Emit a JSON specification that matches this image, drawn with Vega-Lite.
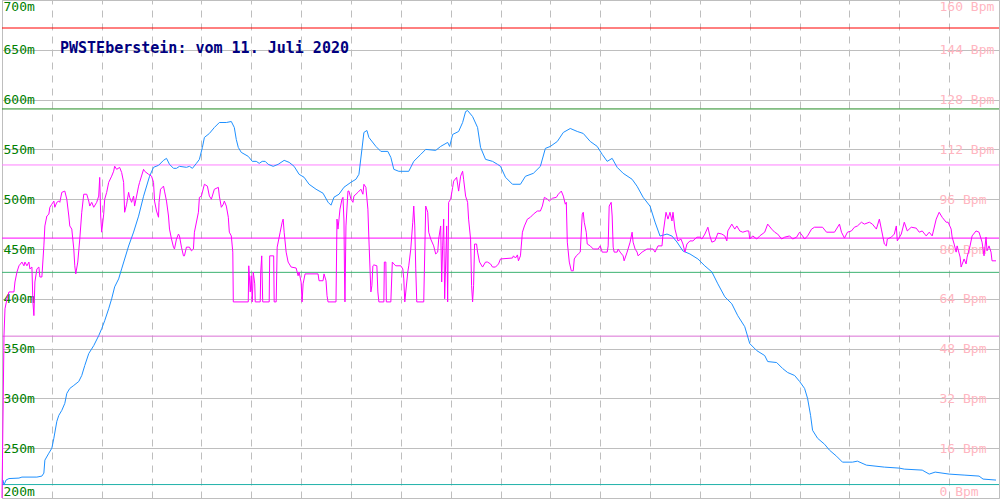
{
  "$schema": "https://vega.github.io/schema/vega-lite/v6.json",
  "width": 1000,
  "height": 500,
  "autosize": {"type": "fit", "contains": "padding"},
  "padding": 0,
  "background": "white",
  "view": {"stroke": "#bebebe", "strokeWidth": 1},
  "config": {"font": "DejaVu Sans Mono", "axis": {"minExtent": 0, "maxExtent": 0}},
  "title": {
    "text": "PWSTEberstein: vom 11. Juli 2020",
    "anchor": "start",
    "frame": "group",
    "orient": "top",
    "offset": -68,
    "dx": 58,
    "baseline": "alphabetic",
    "font": "DejaVu Sans Mono",
    "fontSize": 15,
    "fontWeight": "bold",
    "color": "#000080"
  },
  "datasets": {
    "zones": [
      {"zone": "Max", "bpm": 151},
      {"zone": "Z5", "bpm": 125},
      {"zone": "Z4", "bpm": 107},
      {"zone": "Z3", "bpm": 83.5},
      {"zone": "Z2", "bpm": 72.5},
      {"zone": "Z1", "bpm": 52}
    ],
    "base": [{"m": 213.5}],
    "alt": [
      {"t":1,"m":218},{"t":2,"m":213},{"t":4,"m":218},{"t":7,"m":219.5},{"t":17,"m":220},{"t":20,"m":221},{"t":35,"m":221},{"t":40,"m":222},{"t":42,"m":225},{"t":43,"m":238},{"t":47,"m":245},{"t":50,"m":250},{"t":52,"m":260},{"t":55,"m":277},{"t":57,"m":283},{"t":60,"m":288},{"t":63,"m":295},{"t":65,"m":305},{"t":68,"m":310},{"t":72,"m":313},{"t":77,"m":317},{"t":80,"m":323},{"t":83,"m":333},{"t":87,"m":345},{"t":92,"m":353},{"t":97,"m":363},{"t":100,"m":370},{"t":103,"m":378},{"t":107,"m":390},{"t":110,"m":400},{"t":113,"m":412},{"t":117,"m":420},{"t":120,"m":430},{"t":127,"m":453},{"t":132,"m":467},{"t":137,"m":483},{"t":142,"m":503},{"t":148,"m":523},{"t":152,"m":532},{"t":157,"m":534},{"t":162,"m":539},{"t":165,"m":541},{"t":168,"m":535},{"t":172,"m":531},{"t":175,"m":531},{"t":178,"m":533},{"t":185,"m":532},{"t":188,"m":533},{"t":191,"m":531},{"t":195,"m":536},{"t":198,"m":540},{"t":201,"m":552},{"t":203,"m":562},{"t":208,"m":566},{"t":213,"m":572},{"t":218,"m":577},{"t":225,"m":577},{"t":230,"m":578},{"t":233,"m":572},{"t":235,"m":560},{"t":237,"m":552},{"t":240,"m":547},{"t":247,"m":543},{"t":251,"m":538},{"t":255,"m":538},{"t":258,"m":536},{"t":261,"m":538},{"t":264,"m":538},{"t":267,"m":535},{"t":272,"m":533},{"t":277,"m":535},{"t":283,"m":539},{"t":288,"m":537},{"t":293,"m":533},{"t":298,"m":525},{"t":303,"m":522},{"t":308,"m":515},{"t":315,"m":510},{"t":322,"m":506},{"t":327,"m":497},{"t":330,"m":494},{"t":333,"m":502},{"t":338,"m":505},{"t":343,"m":512},{"t":350,"m":517},{"t":355,"m":520},{"t":358,"m":525},{"t":361,"m":550},{"t":363,"m":567},{"t":366,"m":569},{"t":368,"m":562},{"t":375,"m":553},{"t":380,"m":548},{"t":387,"m":548},{"t":390,"m":542},{"t":393,"m":530},{"t":398,"m":528},{"t":408,"m":528},{"t":413,"m":538},{"t":420,"m":545},{"t":425,"m":550},{"t":435,"m":549},{"t":440,"m":553},{"t":447,"m":557},{"t":449,"m":553},{"t":452,"m":565},{"t":458,"m":568},{"t":462,"m":577},{"t":465,"m":588},{"t":467,"m":589},{"t":472,"m":583},{"t":477,"m":572},{"t":480,"m":552},{"t":485,"m":540},{"t":492,"m":538},{"t":497,"m":535},{"t":500,"m":533},{"t":505,"m":522},{"t":512,"m":515},{"t":520,"m":515},{"t":525,"m":523},{"t":533,"m":526},{"t":540,"m":533},{"t":545,"m":551},{"t":550,"m":553},{"t":557,"m":558},{"t":563,"m":567},{"t":570,"m":571},{"t":577,"m":568},{"t":583,"m":566},{"t":590,"m":558},{"t":597,"m":553},{"t":602,"m":545},{"t":607,"m":538},{"t":612,"m":541},{"t":617,"m":532},{"t":623,"m":526},{"t":632,"m":520},{"t":637,"m":513},{"t":643,"m":502},{"t":650,"m":493},{"t":655,"m":477},{"t":660,"m":463},{"t":667,"m":465},{"t":672,"m":463},{"t":677,"m":457},{"t":683,"m":448},{"t":690,"m":445},{"t":698,"m":440},{"t":705,"m":433},{"t":712,"m":427},{"t":718,"m":415},{"t":725,"m":402},{"t":732,"m":395},{"t":738,"m":383},{"t":745,"m":372},{"t":750,"m":355},{"t":757,"m":348},{"t":765,"m":343},{"t":768,"m":337},{"t":777,"m":336},{"t":783,"m":330},{"t":788,"m":326},{"t":795,"m":323},{"t":800,"m":317},{"t":805,"m":310},{"t":808,"m":300},{"t":811,"m":283},{"t":813,"m":268},{"t":818,"m":260},{"t":825,"m":254},{"t":830,"m":248},{"t":837,"m":242},{"t":843,"m":236},{"t":853,"m":236},{"t":858,"m":237},{"t":867,"m":233},{"t":885,"m":231},{"t":900,"m":230},{"t":905,"m":229},{"t":923,"m":228},{"t":930,"m":224},{"t":936,"m":226},{"t":950,"m":224},{"t":965,"m":223},{"t":980,"m":222},{"t":984,"m":219},{"t":997,"m":218}
    ],
    "hr": [
      {"t":0,"bpm":0},{"t":0.5,"bpm":12.8},{"t":2,"bpm":52.2},{"t":3,"bpm":60.8},{"t":5,"bpm":64},{"t":7,"bpm":66.2},{"t":12,"bpm":66.2},{"t":13,"bpm":69.4},{"t":15,"bpm":72.6},{"t":17,"bpm":74.6},{"t":20,"bpm":75.8},{"t":22,"bpm":74.6},{"t":23,"bpm":75.8},{"t":25,"bpm":74.6},{"t":27,"bpm":75.8},{"t":28,"bpm":73.6},{"t":30,"bpm":74.2},{"t":31,"bpm":63},{"t":32,"bpm":58.6},{"t":33,"bpm":69.4},{"t":35,"bpm":73.6},{"t":37,"bpm":74.2},{"t":38,"bpm":71},{"t":40,"bpm":71},{"t":42,"bpm":81},{"t":43,"bpm":87.4},{"t":45,"bpm":90.6},{"t":47,"bpm":91.2},{"t":48,"bpm":93.4},{"t":50,"bpm":94.4},{"t":52,"bpm":95.4},{"t":53,"bpm":93.4},{"t":55,"bpm":95},{"t":57,"bpm":95.4},{"t":58,"bpm":95},{"t":60,"bpm":98.2},{"t":63,"bpm":98.6},{"t":65,"bpm":96},{"t":67,"bpm":90.6},{"t":68,"bpm":87.4},{"t":70,"bpm":86.4},{"t":72,"bpm":80},{"t":73,"bpm":74.6},{"t":74,"bpm":72},{"t":76,"bpm":75.8},{"t":78,"bpm":83.2},{"t":80,"bpm":91.8},{"t":82,"bpm":97.6},{"t":85,"bpm":97.6},{"t":87,"bpm":95.4},{"t":88,"bpm":93.8},{"t":90,"bpm":95},{"t":92,"bpm":93.4},{"t":95,"bpm":95},{"t":97,"bpm":97},{"t":98,"bpm":103},{"t":99,"bpm":90.6},{"t":100,"bpm":85.4},{"t":102,"bpm":91.2},{"t":103,"bpm":96},{"t":105,"bpm":98.2},{"t":107,"bpm":101.4},{"t":110,"bpm":103.4},{"t":112,"bpm":105},{"t":113,"bpm":106.6},{"t":115,"bpm":105.6},{"t":118,"bpm":106.2},{"t":120,"bpm":104.6},{"t":122,"bpm":101.4},{"t":123,"bpm":91.8},{"t":125,"bpm":94.4},{"t":127,"bpm":98.2},{"t":128,"bpm":96.6},{"t":130,"bpm":95},{"t":132,"bpm":97},{"t":133,"bpm":93.8},{"t":135,"bpm":97},{"t":137,"bpm":100.2},{"t":138,"bpm":101.4},{"t":142,"bpm":105.6},{"t":143,"bpm":105},{"t":147,"bpm":104},{"t":150,"bpm":103.4},{"t":152,"bpm":101.4},{"t":153,"bpm":95.4},{"t":155,"bpm":92.2},{"t":157,"bpm":90.2},{"t":157.5,"bpm":95},{"t":159,"bpm":99.2},{"t":162,"bpm":100.2},{"t":163,"bpm":98.6},{"t":165,"bpm":95.4},{"t":167,"bpm":90.6},{"t":168,"bpm":86.4},{"t":170,"bpm":83.2},{"t":172,"bpm":80.6},{"t":173,"bpm":80},{"t":175,"bpm":83.2},{"t":177,"bpm":84.8},{"t":178,"bpm":84.2},{"t":180,"bpm":80.6},{"t":182,"bpm":77.8},{"t":183,"bpm":77.8},{"t":185,"bpm":80.6},{"t":188,"bpm":80.6},{"t":190,"bpm":79.4},{"t":192,"bpm":80},{"t":193,"bpm":85.4},{"t":197,"bpm":91.8},{"t":198,"bpm":96.6},{"t":200,"bpm":97},{"t":203,"bpm":100.8},{"t":206,"bpm":100.2},{"t":208,"bpm":97},{"t":210,"bpm":96},{"t":213,"bpm":99.2},{"t":217,"bpm":99.8},{"t":218,"bpm":97},{"t":220,"bpm":93.4},{"t":222,"bpm":94.4},{"t":223,"bpm":95.4},{"t":225,"bpm":93.8},{"t":227,"bpm":90.2},{"t":228,"bpm":85.4},{"t":230,"bpm":84.2},{"t":231.5,"bpm":79},{"t":232,"bpm":63},{"t":247,"bpm":63},{"t":247.5,"bpm":74.6},{"t":249,"bpm":66.2},{"t":250,"bpm":71.4},{"t":251,"bpm":63},{"t":252,"bpm":72.6},{"t":253.5,"bpm":68.8},{"t":254,"bpm":63},{"t":259,"bpm":63},{"t":259.5,"bpm":72.6},{"t":260.5,"bpm":77.8},{"t":261.5,"bpm":63},{"t":268,"bpm":63},{"t":268.5,"bpm":77.8},{"t":272.5,"bpm":77.8},{"t":273,"bpm":63},{"t":275,"bpm":63},{"t":276,"bpm":80.6},{"t":279,"bpm":85.4},{"t":281,"bpm":88.6},{"t":282,"bpm":89.6},{"t":283,"bpm":85.4},{"t":285,"bpm":79},{"t":287,"bpm":75.8},{"t":290,"bpm":74.2},{"t":295,"bpm":73.9},{"t":297,"bpm":71.4},{"t":298,"bpm":72.6},{"t":300,"bpm":69.4},{"t":301,"bpm":63},{"t":302,"bpm":68.8},{"t":304,"bpm":72},{"t":317,"bpm":72},{"t":318,"bpm":69.8},{"t":322,"bpm":69.8},{"t":323,"bpm":72},{"t":325,"bpm":69.8},{"t":326,"bpm":65},{"t":327,"bpm":63},{"t":335,"bpm":63},{"t":336,"bpm":89.6},{"t":337,"bpm":86.4},{"t":338,"bpm":89.6},{"t":339,"bpm":92.8},{"t":341,"bpm":96},{"t":342,"bpm":96.6},{"t":343,"bpm":89},{"t":343.5,"bpm":72.6},{"t":344,"bpm":63},{"t":345,"bpm":87.4},{"t":347,"bpm":98.6},{"t":348,"bpm":98.6},{"t":350,"bpm":96},{"t":352,"bpm":95},{"t":353,"bpm":97},{"t":357,"bpm":98.2},{"t":360,"bpm":99.2},{"t":362,"bpm":97.6},{"t":363,"bpm":100.8},{"t":365,"bpm":99.8},{"t":367,"bpm":92.8},{"t":368,"bpm":83.2},{"t":370,"bpm":66.2},{"t":371,"bpm":68.2},{"t":372,"bpm":74.6},{"t":373,"bpm":74.9},{"t":376,"bpm":74.6},{"t":377,"bpm":66.2},{"t":378,"bpm":63},{"t":383,"bpm":63},{"t":383.5,"bpm":75.8},{"t":385,"bpm":75.8},{"t":385.5,"bpm":63},{"t":390,"bpm":63},{"t":391.5,"bpm":75.8},{"t":393,"bpm":75.2},{"t":395,"bpm":74.6},{"t":400,"bpm":74.6},{"t":402,"bpm":73.6},{"t":403,"bpm":70.4},{"t":404,"bpm":63},{"t":407,"bpm":72.6},{"t":408,"bpm":74.6},{"t":410,"bpm":80},{"t":412,"bpm":88.6},{"t":413,"bpm":93.8},{"t":414,"bpm":87.4},{"t":415,"bpm":73.6},{"t":416,"bpm":63},{"t":423,"bpm":63},{"t":425,"bpm":93.8},{"t":427,"bpm":91.8},{"t":428,"bpm":85.4},{"t":430,"bpm":83.2},{"t":433,"bpm":81},{"t":435,"bpm":78.4},{"t":437,"bpm":79},{"t":438,"bpm":83.2},{"t":440,"bpm":87.4},{"t":441,"bpm":69.4},{"t":442,"bpm":81},{"t":443,"bpm":89.6},{"t":444,"bpm":64},{"t":446,"bpm":87.4},{"t":447,"bpm":63},{"t":448,"bpm":95},{"t":450,"bpm":96},{"t":452,"bpm":99.8},{"t":453,"bpm":101.8},{"t":456,"bpm":103},{"t":458,"bpm":98.6},{"t":460,"bpm":103.4},{"t":462,"bpm":105},{"t":463,"bpm":102.4},{"t":465,"bpm":97},{"t":467,"bpm":95},{"t":468,"bpm":89.6},{"t":470,"bpm":83.2},{"t":471,"bpm":68.2},{"t":472,"bpm":63},{"t":473,"bpm":68.2},{"t":474,"bpm":81.6},{"t":476,"bpm":81.6},{"t":477,"bpm":79},{"t":479,"bpm":75.8},{"t":482,"bpm":74.2},{"t":485,"bpm":75.8},{"t":487,"bpm":75.8},{"t":490,"bpm":75.2},{"t":492,"bpm":74.2},{"t":495,"bpm":74.2},{"t":498,"bpm":75.2},{"t":500,"bpm":76.8},{"t":512,"bpm":77.1},{"t":513,"bpm":77.8},{"t":515,"bpm":77.1},{"t":517,"bpm":78.1},{"t":518,"bpm":76.2},{"t":520,"bpm":77.8},{"t":522,"bpm":85.4},{"t":524,"bpm":87.4},{"t":527,"bpm":89.6},{"t":530,"bpm":90.2},{"t":533,"bpm":91.2},{"t":537,"bpm":92.2},{"t":540,"bpm":92.2},{"t":542,"bpm":93.8},{"t":544,"bpm":96.6},{"t":547,"bpm":96},{"t":549,"bpm":95.4},{"t":552,"bpm":96.3},{"t":556,"bpm":96.6},{"t":558,"bpm":97.6},{"t":561,"bpm":98.6},{"t":563,"bpm":97},{"t":565,"bpm":94.4},{"t":566,"bpm":95},{"t":567,"bpm":82.2},{"t":569,"bpm":75.8},{"t":571,"bpm":73},{"t":573,"bpm":73},{"t":574,"bpm":76.8},{"t":576,"bpm":77.8},{"t":578,"bpm":78.4},{"t":580,"bpm":79},{"t":582,"bpm":91.2},{"t":583,"bpm":91.8},{"t":584,"bpm":88.6},{"t":586,"bpm":85.4},{"t":587,"bpm":81.6},{"t":590,"bpm":81},{"t":593,"bpm":80},{"t":598,"bpm":80},{"t":600,"bpm":81},{"t":602,"bpm":79},{"t":607,"bpm":79},{"t":608,"bpm":81},{"t":609,"bpm":93.8},{"t":611,"bpm":95},{"t":612,"bpm":90.6},{"t":613,"bpm":80.6},{"t":614,"bpm":79},{"t":617,"bpm":79},{"t":618,"bpm":80},{"t":620,"bpm":79},{"t":623,"bpm":77.8},{"t":624,"bpm":76.2},{"t":627,"bpm":79},{"t":630,"bpm":82.2},{"t":632,"bpm":85.4},{"t":633,"bpm":82.2},{"t":635,"bpm":80},{"t":637,"bpm":79},{"t":638,"bpm":77.8},{"t":642,"bpm":79},{"t":647,"bpm":80},{"t":653,"bpm":80},{"t":655,"bpm":79},{"t":658,"bpm":81},{"t":662,"bpm":81},{"t":663,"bpm":84.8},{"t":666,"bpm":91.8},{"t":668,"bpm":89.6},{"t":670,"bpm":91.8},{"t":672,"bpm":89},{"t":673,"bpm":91.8},{"t":675,"bpm":86.4},{"t":678,"bpm":82.6},{"t":681,"bpm":83.2},{"t":683,"bpm":81.6},{"t":685,"bpm":79},{"t":687,"bpm":81.6},{"t":690,"bpm":82.6},{"t":693,"bpm":82.6},{"t":697,"bpm":83.8},{"t":700,"bpm":83.8},{"t":702,"bpm":83.2},{"t":705,"bpm":84.8},{"t":708,"bpm":87},{"t":710,"bpm":84.2},{"t":712,"bpm":82.2},{"t":715,"bpm":82.6},{"t":717,"bpm":84.2},{"t":718,"bpm":85.1},{"t":722,"bpm":84.8},{"t":725,"bpm":84.2},{"t":727,"bpm":82.6},{"t":728,"bpm":85.8},{"t":732,"bpm":88},{"t":735,"bpm":86.4},{"t":737,"bpm":87.4},{"t":740,"bpm":85.8},{"t":743,"bpm":85.4},{"t":747,"bpm":85.8},{"t":749,"bpm":85.8},{"t":750,"bpm":83.2},{"t":753,"bpm":84.2},{"t":757,"bpm":83.2},{"t":760,"bpm":84.2},{"t":765,"bpm":85.4},{"t":768,"bpm":88},{"t":772,"bpm":86.4},{"t":775,"bpm":85.4},{"t":778,"bpm":84.8},{"t":782,"bpm":83.2},{"t":785,"bpm":83.8},{"t":790,"bpm":84.2},{"t":793,"bpm":83.2},{"t":797,"bpm":83.8},{"t":800,"bpm":85.4},{"t":803,"bpm":84.2},{"t":805,"bpm":83.2},{"t":808,"bpm":84.2},{"t":812,"bpm":86.4},{"t":815,"bpm":87},{"t":823,"bpm":87},{"t":827,"bpm":85.4},{"t":835,"bpm":85.4},{"t":840,"bpm":88},{"t":842,"bpm":85.4},{"t":845,"bpm":83.5},{"t":848,"bpm":85.4},{"t":852,"bpm":85.8},{"t":855,"bpm":87},{"t":858,"bpm":87.4},{"t":862,"bpm":88.6},{"t":865,"bpm":88},{"t":870,"bpm":88.6},{"t":873,"bpm":88},{"t":877,"bpm":86.4},{"t":880,"bpm":89.6},{"t":882,"bpm":86.4},{"t":885,"bpm":81.6},{"t":887,"bpm":81},{"t":888,"bpm":83.2},{"t":892,"bpm":83.8},{"t":895,"bpm":84.8},{"t":897,"bpm":87.4},{"t":898,"bpm":82.6},{"t":902,"bpm":84.8},{"t":905,"bpm":88.6},{"t":908,"bpm":85.8},{"t":912,"bpm":87},{"t":917,"bpm":86.7},{"t":920,"bpm":85.4},{"t":923,"bpm":85.8},{"t":927,"bpm":84.2},{"t":930,"bpm":85.4},{"t":933,"bpm":84.2},{"t":937,"bpm":89.6},{"t":940,"bpm":91.8},{"t":943,"bpm":90.2},{"t":947,"bpm":88.6},{"t":949,"bpm":88.6},{"t":952,"bpm":86.4},{"t":953,"bpm":83.8},{"t":955,"bpm":81.6},{"t":957,"bpm":79},{"t":958,"bpm":81},{"t":961,"bpm":77.4},{"t":962,"bpm":74.2},{"t":965,"bpm":76.8},{"t":967,"bpm":75.2},{"t":968,"bpm":77.4},{"t":971,"bpm":81},{"t":973,"bpm":84.2},{"t":977,"bpm":85.8},{"t":980,"bpm":85.4},{"t":983,"bpm":82.2},{"t":985,"bpm":77.8},{"t":987,"bpm":83.8},{"t":988,"bpm":79.4},{"t":990,"bpm":81},{"t":992,"bpm":79},{"t":993,"bpm":76.2},{"t":997,"bpm":76.2}
    ]
  },
  "layer": [
    {
      "data": {"name": "zones"},
      "mark": {"type": "rule", "strokeWidth": 1},
      "encoding": {
        "y": {"field": "bpm", "type": "quantitative", "scale": {"domain": [0, 160], "nice": false, "zero": false}, "axis": null},
        "color": {"field": "zone", "type": "nominal", "legend": null,
          "scale": {"domain": ["Max", "Z5", "Z4", "Z3", "Z2", "Z1"], "range": ["#ff0000", "#228b22", "#ff80ff", "#ff00ff", "#3cb371", "#da70d6"]}}
      }
    },
    {
      "data": {"name": "base"},
      "mark": {"type": "rule", "strokeWidth": 1, "color": "#20b2aa"},
      "encoding": {
        "y": {"field": "m", "type": "quantitative", "scale": {"domain": [200, 700], "nice": false, "zero": false}, "axis": null}
      }
    },
    {
      "data": {"name": "alt"},
      "mark": {"type": "line", "strokeWidth": 1, "color": "#1e90ff"},
      "encoding": {
        "x": {"field": "t", "type": "quantitative", "scale": {"domain": [0, 1000], "nice": false, "zero": false},
          "axis": {"orient": "top", "values": [50,100,150,200,250,300,350,400,450,500,550,600,650,700,750,800,850,900,950], "grid": true, "gridColor": "#bebebe", "gridWidth": 1, "gridDash": [7, 6], "labels": false, "ticks": false, "domain": false, "title": null}},
        "y": {"field": "m", "type": "quantitative", "scale": {"domain": [200, 700], "nice": false, "zero": false},
          "axis": {"orient": "left", "values": [200,250,300,350,400,450,500,550,600,650,700], "grid": true, "gridColor": "#bebebe", "gridWidth": 1, "domain": false, "ticks": false, "tickSize": 0, "labelAlign": "left", "labelPadding": -1, "labelFlush": true, "labelFlushOffset": 0, "labelExpr": "datum.value + 'm'", "labelColor": "#008000", "labelFont": "DejaVu Sans Mono", "labelFontSize": 13, "title": null}}
      }
    },
    {
      "data": {"name": "hr"},
      "mark": {"type": "line", "strokeWidth": 1, "color": "#ff00ff"},
      "encoding": {
        "x": {"field": "t", "type": "quantitative", "scale": {"domain": [0, 1000], "nice": false, "zero": false},
          "axis": {"orient": "top", "values": [50,100,150,200,250,300,350,400,450,500,550,600,650,700,750,800,850,900,950], "grid": true, "gridColor": "#bebebe", "gridWidth": 1, "gridDash": [7, 6], "labels": false, "ticks": false, "domain": false, "title": null}},
        "y": {"field": "bpm", "type": "quantitative", "scale": {"domain": [0, 160], "nice": false, "zero": false},
          "axis": {"orient": "right", "values": [0,16,32,48,64,80,96,112,128,144,160], "grid": false, "domain": false, "ticks": false, "tickSize": 0, "labelAlign": "left", "labelPadding": -60, "labelFlush": true, "labelFlushOffset": 0, "labelExpr": "datum.value + ' Bpm'", "labelColor": "#ffb6c1", "labelFont": "DejaVu Sans Mono", "labelFontSize": 13, "title": null}}
      }
    }
  ],
  "resolve": {"scale": {"y": "independent"}}
}
